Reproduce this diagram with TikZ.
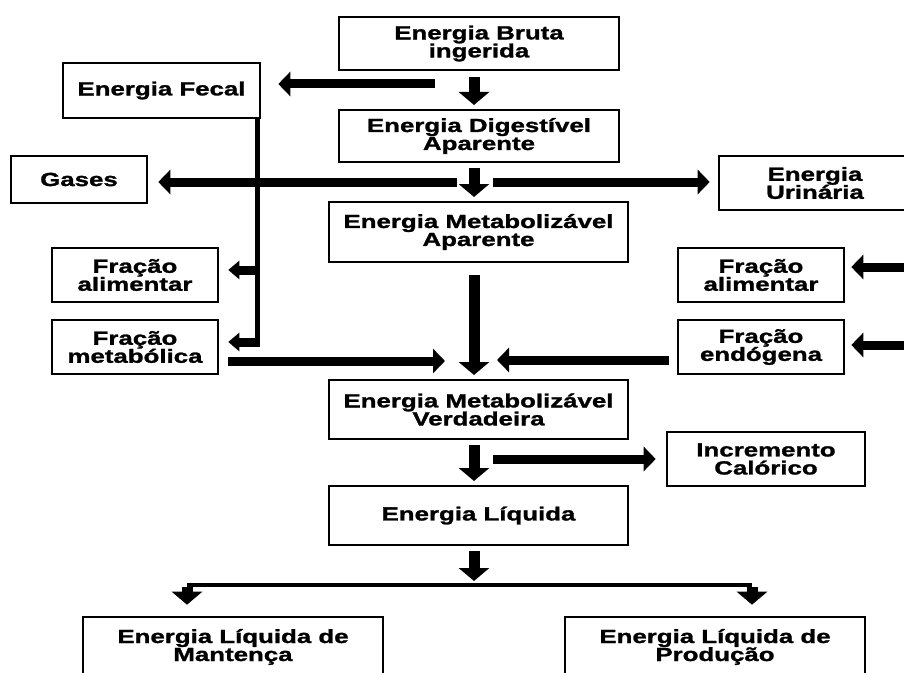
\documentclass[tikz,border=0pt]{standalone}
\usepackage{fontspec}
\newfontfamily\boxfont{Liberation Sans}[FakeStretch=1.36,FakeBold=1.4]
\usetikzlibrary{arrows.meta}
\begin{document}
\begin{tikzpicture}[x=1bp,y=-1bp,
  box/.style={draw, line width=2.6bp, align=center, inner sep=0pt,
    font={\boxfont\bfseries\fontsize{19bp}{18bp}\selectfont}},
  big/.style={line width=11bp, -{Triangle[width=30bp,length=13bp]}},
  mid/.style={line width=9bp, -{Triangle[width=24bp,length=12bp]}},
  small/.style={line width=9bp, -{Triangle[width=18bp,length=11bp]}},
  thinline/.style={line width=5bp},
  splitline/.style={line width=4bp}]
\useasboundingbox (0,0) rectangle (904,673);
% central column
\node[box, minimum width=280bp, minimum height=53bp] (bruta) at (479,43.5) {Energia Bruta\\ingerida};
\node[box, minimum width=280bp, minimum height=52bp] (dig) at (479,136) {Energia Digestível\\Aparente};
\node[box, minimum width=299bp, minimum height=60bp] (metap) at (478.5,232) {Energia Metabolizável\\Aparente};
\node[box, minimum width=299bp, minimum height=59bp] (metv) at (478.5,409.5) {Energia Metabolizável\\Verdadeira};
\node[box, minimum width=299bp, minimum height=59bp] (liq) at (478.5,515.5) {Energia Líquida};
% left
\node[box, minimum width=197bp, minimum height=55bp] (fecal) at (161.5,90.5) {Energia Fecal};
\node[box, minimum width=136bp, minimum height=47bp] (gases) at (79,179.5) {Gases};
\node[box, minimum width=166bp, minimum height=54bp] (falimL) at (135,275) {Fração\\alimentar};
\node[box, minimum width=166bp, minimum height=54bp] (fmet) at (135,347) {Fração\\metabólica};
% right
\node[box, minimum width=192bp, minimum height=54bp] (urin) at (815,183) {Energia\\Urinária};
\node[box, minimum width=166bp, minimum height=54bp] (falimR) at (761,275) {Fração\\alimentar};
\node[box, minimum width=166bp, minimum height=54bp] (fendo) at (761,347) {Fração\\endógena};
\node[box, minimum width=198bp, minimum height=54bp] (incr) at (766,459) {Incremento\\Calórico};
% bottom
\node[box, minimum width=300bp, minimum height=60bp] (mant) at (233,647) {Energia Líquida de\\Mantença};
\node[box, minimum width=300bp, minimum height=60bp] (prod) at (715,647) {Energia Líquida de\\Produção};

% free coordinates
\coordinate (a1s) at (474,77);   \coordinate (a1e) at (474,105);
\coordinate (fecs) at (435,84);
\coordinate (a2s) at (474,168);  \coordinate (a2e) at (474,197);
\coordinate (gass) at (457,182);
\coordinate (urs) at (493,182);
\coordinate (a3s) at (474,275);  \coordinate (a3e) at (474,375);
\coordinate (fmete) at (445,361);
\coordinate (fendoe) at (497,360);
\coordinate (rin1) at (906,267);
\coordinate (rin2) at (906,345);
\coordinate (a4s) at (474,445);  \coordinate (a4e) at (474,481);
\coordinate (incs) at (493,459);
\coordinate (a5s) at (474,551);  \coordinate (a5e) at (474,581);
\coordinate (spL) at (187,585);  \coordinate (spR) at (752,585);
\coordinate (fectop) at (257,118);
\coordinate (fecb1) at (257,270);
\coordinate (fecb2) at (257,342);

% arrows in central column
\draw[big] (a1s) -- (a1e);
\draw[big] (a2s) -- (a2e);
\draw[big] (a3s) -- (a3e);
\draw[big] (a4s) -- (a4e);
\draw[big] (a5s) -- (a5e);

% side arrows
\draw[mid, shorten >=17bp] (fecs) -- (fecal.east |- fecs);
\draw[thinline] (fectop) -- ([yshift=2.5bp]fecb2);
\draw[small, shorten >=9bp] (fecb1) -- (falimL.east |- fecb1);
\draw[small, shorten >=9bp] ([xshift=2.5bp]fecb2) -- (fmet.east |- fecb2);
\draw[mid, shorten >=10bp] (gass) -- (gases.east |- gass);
\draw[mid, shorten >=8bp] (urs) -- (urin.west |- urs);
\draw[mid, shorten <=9bp] (fmet.east |- fmete) -- (fmete);
\draw[mid, shorten <=8bp] (fendo.west |- fendoe) -- (fendoe);
\draw[mid, shorten >=6bp] (rin1) -- (falimR.east |- rin1);
\draw[mid, shorten >=6bp] (rin2) -- (fendo.east |- rin2);
\draw[mid, shorten >=10bp] (incs) -- (incr.west |- incs);

% split to bottom
\draw[splitline] (spL) -- (spR);
\draw[big, shorten >=11bp] ([yshift=-2bp]spL) -- (mant.north -| spL);
\draw[big, shorten >=11bp] ([yshift=-2bp]spR) -- (prod.north -| spR);
\end{tikzpicture}
\end{document}
